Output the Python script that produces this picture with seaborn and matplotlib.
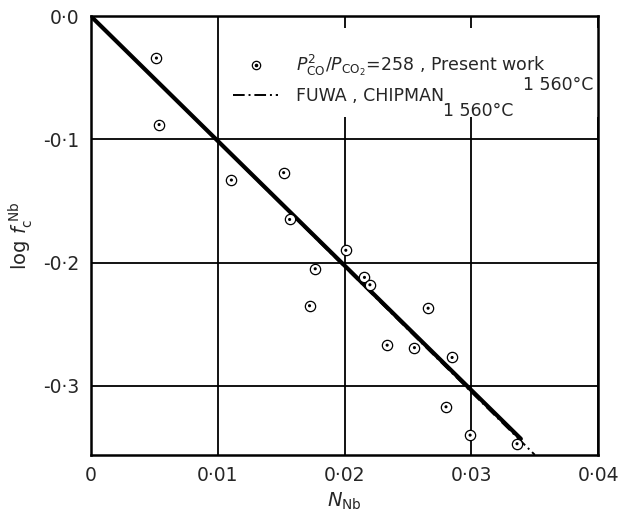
import numpy as np
import pandas as pd
import matplotlib
matplotlib.use("Agg")
import matplotlib.pyplot as plt
import seaborn as sns
from matplotlib.lines import Line2D
from matplotlib.patches import Rectangle
from matplotlib.legend_handler import HandlerTuple

# Present work points (N_Nb, log f_c^Nb)
n_nb = [0.00517, 0.00538, 0.01108, 0.0152, 0.01567, 0.0201, 0.01769, 0.02157,
        0.0220, 0.01724, 0.02659, 0.02336, 0.02551, 0.02848, 0.0280, 0.0299, 0.0336]
log_fc = [-0.034, -0.088, -0.133, -0.127, -0.165, -0.190, -0.205, -0.212,
          -0.218, -0.235, -0.237, -0.267, -0.269, -0.277, -0.317, -0.340, -0.347]

# fitted line (present work) and Fuwa, Chipman line
fit_x = [0.0, 0.0339]
fit_y = [0.0, -0.343]
fuwa_x = [0.0, 0.0350]
fuwa_y = [0.0, -0.356]

x_ticks = [0, 0.01, 0.02, 0.03, 0.04]
x_labels = ["0", "0·01", "0·02", "0·03", "0·04"]
y_ticks = [0.0, -0.1, -0.2, -0.3]
y_labels = ["0·0", "-0·1", "-0·2", "-0·3"]

sns.set_style("white")
plt.rcParams['font.family'] = ['DejaVu Sans']
plt.rcParams['mathtext.fontset'] = 'dejavusans'

pts = pd.DataFrame({"x": n_nb, "y": log_fc})

fig = plt.figure(figsize=(6.18, 5.21), dpi=100)
ax = fig.add_axes([0.147, 0.127, 0.821, 0.842])

ax.grid(True, color="black", linewidth=1.3, zorder=0)
ax.set_axisbelow(True)

# white patch behind the legend text (gridlines are broken there)
ax.add_patch(Rectangle((0.264, 0.771), 0.736, 0.201, transform=ax.transAxes,
                       facecolor="white", edgecolor="none", zorder=1.5))

sns.lineplot(x=fuwa_x, y=fuwa_y, ax=ax, color="black", linewidth=1.4,
             linestyle=(0, (6, 2, 1, 2)), zorder=3)
sns.lineplot(x=fit_x, y=fit_y, ax=ax, color="black", linewidth=3.0, zorder=3)

sns.scatterplot(data=pts, x="x", y="y", ax=ax, marker="o", s=55,
                facecolor="white", edgecolor="black", linewidth=0.9, zorder=4)
sns.scatterplot(data=pts, x="x", y="y", ax=ax, marker="o", s=5,
                color="black", edgecolor="none", zorder=5)

ax.set_xlim(0, 0.04)
ax.set_ylim(-0.356, 0.0)
ax.set_xticks(x_ticks)
ax.set_xticklabels(x_labels)
ax.set_yticks(y_ticks)
ax.set_yticklabels(y_labels)
ax.tick_params(length=0, labelsize=13.5)
ax.tick_params(axis="x", pad=8)
ax.tick_params(axis="y", pad=8)

for sp in ax.spines.values():
    sp.set_visible(True)
    sp.set_color("black")
    sp.set_linewidth(1.8)

ax.set_xlabel(r"$N_{\mathrm{Nb}}$", fontsize=14, labelpad=4)
ax.set_ylabel(r"$\log\,f_{\mathrm{c}}^{\;\mathrm{Nb}}$", fontsize=14, labelpad=6)

ring = Line2D([], [], linestyle="none", marker="o", markersize=6,
              markerfacecolor="white", markeredgecolor="black", markeredgewidth=0.9)
dot = Line2D([], [], linestyle="none", marker="o", markersize=1.6, color="black")
dash = Line2D([], [], color="black", linewidth=1.4, linestyle=(0, (6, 2, 1, 2)))
labels = [r"$P^{2}_{\mathrm{CO}}/P_{\mathrm{CO_2}}$=258 , Present work",
          "FUWA , CHIPMAN"]
leg = ax.legend([(ring, dot), dash], labels, loc="upper left",
                bbox_to_anchor=(0.25, 0.952), frameon=False, fontsize=12.5,
                handlelength=2.6, handletextpad=1.0, labelspacing=0.5,
                handler_map={tuple: HandlerTuple(ndivide=1, pad=0)})
leg.set_zorder(6)

ax.text(0.99, 0.842, "1 560°C", transform=ax.transAxes, ha="right",
        va="center", fontsize=12.5, zorder=6)
ax.text(0.694, 0.784, "1 560°C", transform=ax.transAxes, ha="left",
        va="center", fontsize=12.5, zorder=6)

fig.savefig("out.png", dpi=100)
